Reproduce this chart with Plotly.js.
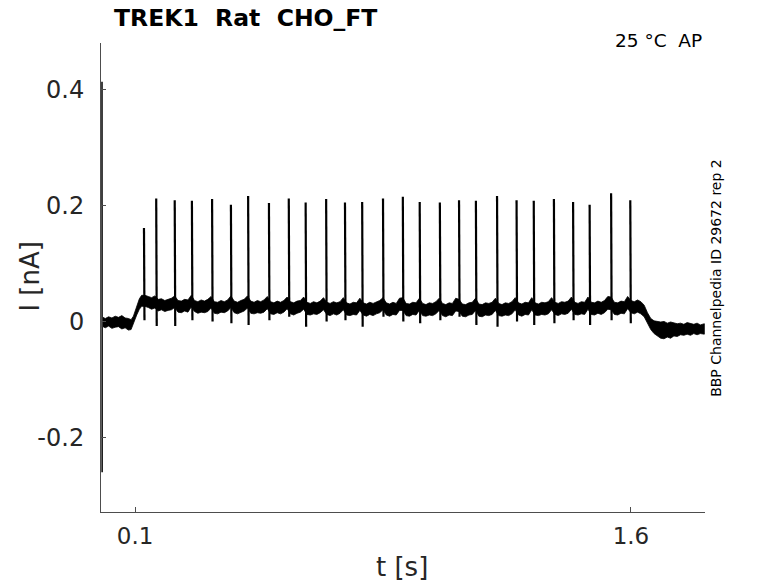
<!DOCTYPE html>
<html>
<head>
<meta charset="utf-8">
<script src="https://cdn.plot.ly/plotly-3.0.1.min.js"></script>
<style>
  html, body { margin: 0; padding: 0; background: #fff; }
  #trace-graph { width: 778px; height: 583px; }
</style>
</head>
<body>
<div id="trace-graph"></div>
<script>
//  ###################### DATA ######################

// envelope of the noisy current trace (nA)
const envTime = [
    0.003, 0.01, 0.02, 0.03, 0.04, 0.05, 0.06, 0.07, 0.08, 0.088,
    0.095, 0.105, 0.113, 0.12,
    0.13, 0.14, 0.15, 0.16, 0.17, 0.18, 0.19, 0.20, 0.21, 0.22,
    0.23, 0.24, 0.25, 0.26, 0.27, 0.28, 0.29, 0.30, 0.31, 0.32,
    0.33, 0.34, 0.35, 0.36, 0.37, 0.38, 0.39, 0.40, 0.41, 0.42,
    0.43, 0.44, 0.45, 0.46, 0.47, 0.48, 0.49, 0.50, 0.51, 0.52,
    0.53, 0.54, 0.55, 0.56, 0.57, 0.58, 0.59, 0.60, 0.61, 0.62,
    0.63, 0.64, 0.65, 0.66, 0.67, 0.68, 0.69, 0.70, 0.71, 0.72,
    0.73, 0.74, 0.75, 0.76, 0.77, 0.78, 0.79, 0.80, 0.81, 0.82,
    0.83, 0.84, 0.85, 0.86, 0.87, 0.88, 0.89, 0.90, 0.91, 0.92,
    0.93, 0.94, 0.95, 0.96, 0.97, 0.98, 0.99, 1.00, 1.01, 1.02,
    1.03, 1.04, 1.05, 1.06, 1.07, 1.08, 1.09, 1.10, 1.11, 1.12,
    1.13, 1.14, 1.15, 1.16, 1.17, 1.18, 1.19, 1.20, 1.21, 1.22,
    1.23, 1.24, 1.25, 1.26, 1.27, 1.28, 1.29, 1.30, 1.31, 1.32,
    1.33, 1.34, 1.35, 1.36, 1.37, 1.38, 1.39, 1.40, 1.41, 1.42,
    1.43, 1.44, 1.45, 1.46, 1.47, 1.48, 1.49, 1.50, 1.51, 1.52,
    1.53, 1.54, 1.55, 1.56, 1.57, 1.58, 1.59, 1.60, 1.61, 1.62,
    1.63, 1.64, 1.65, 1.66, 1.67, 1.68, 1.69, 1.70, 1.71, 1.72,
    1.73, 1.74, 1.75, 1.76, 1.77, 1.78, 1.79, 1.80, 1.81, 1.822
];
const envUpper = [
    0.008, 0.006, 0.009, 0.007, 0.010, 0.008, 0.011, 0.007, 0.006, 0.004,
    0.010, 0.026, 0.040, 0.046,
    0.046, 0.044, 0.042, 0.045, 0.039, 0.040, 0.037, 0.039, 0.041, 0.045,
    0.037, 0.036, 0.039, 0.038, 0.046, 0.037, 0.035, 0.038, 0.036, 0.039,
    0.044, 0.035, 0.034, 0.037, 0.035, 0.038, 0.045, 0.036, 0.034, 0.037,
    0.039, 0.045, 0.036, 0.034, 0.037, 0.035, 0.038, 0.044, 0.035, 0.033,
    0.036, 0.034, 0.037, 0.043, 0.035, 0.033, 0.036, 0.037, 0.043, 0.034,
    0.032, 0.035, 0.033, 0.036, 0.042, 0.034, 0.032, 0.035, 0.033, 0.035,
    0.042, 0.033, 0.031, 0.034, 0.033, 0.041, 0.033, 0.031, 0.034, 0.032,
    0.035, 0.037, 0.042, 0.033, 0.031, 0.034, 0.032, 0.041, 0.042, 0.032,
    0.031, 0.034, 0.033, 0.041, 0.032, 0.030, 0.033, 0.032, 0.035, 0.041,
    0.032, 0.030, 0.033, 0.032, 0.041, 0.039, 0.031, 0.030, 0.033, 0.034,
    0.041, 0.031, 0.030, 0.033, 0.032, 0.034, 0.041, 0.032, 0.030, 0.033,
    0.032, 0.035, 0.042, 0.033, 0.031, 0.034, 0.033, 0.042, 0.033, 0.031,
    0.034, 0.033, 0.035, 0.042, 0.034, 0.032, 0.035, 0.034, 0.036, 0.043,
    0.034, 0.032, 0.035, 0.034, 0.043, 0.034, 0.033, 0.036, 0.034, 0.037,
    0.044, 0.043, 0.034, 0.033, 0.036, 0.035, 0.044, 0.037, 0.035, 0.038,
    0.035, 0.029, 0.016, 0.006, 0.002, 0.001, 0.000, 0.001, -0.002, 0.000,
    -0.001, -0.003, -0.002, -0.004, -0.001, -0.003, -0.004, -0.002, -0.005, -0.003
];
const envLower = [
    -0.008, -0.010, -0.007, -0.011, -0.009, -0.008, -0.012, -0.010, -0.014, -0.013,
    -0.003, 0.012, 0.022, 0.027,
    0.027, 0.025, 0.022, 0.024, 0.019, 0.021, 0.018, 0.020, 0.021, 0.025,
    0.017, 0.016, 0.019, 0.017, 0.026, 0.018, 0.015, 0.017, 0.016, 0.018,
    0.024, 0.015, 0.014, 0.017, 0.016, 0.019, 0.025, 0.016, 0.014, 0.017,
    0.019, 0.024, 0.015, 0.014, 0.016, 0.015, 0.017, 0.023, 0.014, 0.013,
    0.016, 0.014, 0.017, 0.023, 0.014, 0.012, 0.015, 0.017, 0.022, 0.013,
    0.012, 0.014, 0.013, 0.016, 0.021, 0.013, 0.011, 0.014, 0.012, 0.015,
    0.021, 0.012, 0.011, 0.013, 0.012, 0.020, 0.012, 0.010, 0.013, 0.011,
    0.014, 0.016, 0.021, 0.012, 0.010, 0.013, 0.012, 0.020, 0.020, 0.011,
    0.010, 0.013, 0.012, 0.020, 0.011, 0.010, 0.012, 0.011, 0.014, 0.020,
    0.011, 0.009, 0.012, 0.011, 0.019, 0.018, 0.010, 0.009, 0.012, 0.013,
    0.020, 0.010, 0.009, 0.012, 0.011, 0.013, 0.020, 0.011, 0.010, 0.012,
    0.011, 0.014, 0.021, 0.012, 0.010, 0.013, 0.012, 0.021, 0.012, 0.011,
    0.013, 0.012, 0.014, 0.021, 0.013, 0.011, 0.014, 0.013, 0.015, 0.022,
    0.013, 0.012, 0.014, 0.013, 0.022, 0.013, 0.012, 0.015, 0.013, 0.016,
    0.022, 0.021, 0.013, 0.012, 0.015, 0.014, 0.023, 0.016, 0.014, 0.017,
    0.014, 0.009, -0.003, -0.013, -0.020, -0.024, -0.028, -0.029, -0.026, -0.028,
    -0.024, -0.025, -0.022, -0.023, -0.021, -0.023, -0.020, -0.022, -0.020, -0.021
];

// action currents: time (s), peak (nA), dip right after the peak (nA)
const spikeTime = [
    0.127, 0.164, 0.220, 0.272, 0.333, 0.390, 0.442, 0.505, 0.565, 0.616,
    0.678, 0.735, 0.787, 0.850, 0.910, 0.961, 1.022, 1.080, 1.131, 1.195,
    1.254, 1.306, 1.367, 1.425, 1.475, 1.540, 1.598
];
const spikePeak = [
    0.162, 0.213, 0.210, 0.209, 0.212, 0.202, 0.217, 0.205, 0.213, 0.206,
    0.212, 0.206, 0.207, 0.213, 0.216, 0.207, 0.206, 0.210, 0.209, 0.217,
    0.210, 0.209, 0.212, 0.207, 0.202, 0.222, 0.210
];
const spikeDip = [
    0.003, -0.007, -0.007, 0.003, 0.001, -0.002, -0.005, 0.003, 0.009, -0.008,
    0.001, 0.003, -0.008, 0.009, 0.001, -0.002, 0.003, 0.009, -0.005, -0.008,
    0.001, -0.005, -0.002, 0.003, -0.005, 0.003, -0.002
];

// capacitive transient at the very start of the sweep
const transientTime = [0.0, 0.0005];
const transientValue = [0.414, -0.259];

const xTicks = [0.1, 1.6];
const xTickLabels = ["0.1", "1.6"];
const yTicks = [-0.2, 0, 0.2, 0.4];
const yTickLabels = ["-0.2", "0", "0.2", "0.4"];

//  ###################### GRAPH ######################

function drawTraceGraph(){

    // closed polygon: upper edge forward, lower edge backward
    const bandX = envTime.concat(envTime.slice().reverse());
    const bandY = envUpper.concat(envLower.slice().reverse());

    const spikeX = [];
    const spikeY = [];
    spikeTime.forEach((t, i) => {
        spikeX.push(t, t + 0.0015, null);
        spikeY.push(spikePeak[i], spikeDip[i], null);
    });

    const traceData = [
        { x: bandX, y: bandY, mode: "lines", fill: "toself", fillcolor: "#000", line: { color: "#000", width: 0.8 }, hoverinfo: "skip" },
        { x: spikeX, y: spikeY, mode: "lines", line: { color: "#000", width: 2.2 }, connectgaps: false },
        { x: transientTime, y: transientValue, mode: "lines", line: { color: "#000", width: 1.5 } },
    ];

    const axisColor = "#4d4d4d";
    const textColor = "#262626";
    const font = "DejaVu Sans, sans-serif";

    const traceLayout = {
        width: 778,
        height: 583,
        paper_bgcolor: "#fff",
        plot_bgcolor: "#fff",
        font: { family: font, color: textColor },
        margin: { t: 43, b: 71, l: 101, r: 73 },
        showlegend: false,
        xaxis: {
            range: [-0.003, 1.824],
            tickvals: xTicks, ticktext: xTickLabels,
            ticks: "inside", ticklen: 5, tickcolor: axisColor,
            showline: true, linecolor: axisColor, linewidth: 1,
            showgrid: false, zeroline: false,
            ticklabelstandoff: 3,
            tickfont: { size: 23, color: textColor },
        },
        yaxis: {
            range: [-0.3276, 0.481],
            tickvals: yTicks, ticktext: yTickLabels,
            ticks: "inside", ticklen: 5, tickcolor: axisColor,
            showline: true, linecolor: axisColor, linewidth: 1,
            showgrid: false, zeroline: false,
            ticklabelstandoff: 11,
            tickfont: { size: 24, color: textColor },
        },
        annotations: [
            // axis titles placed by hand so they sit where the reference has them
            { text: "t [s]", xref: "paper", yref: "paper",
              x: 0.498, y: -0.117, xanchor: "center", yanchor: "middle", showarrow: false,
              font: { size: 26, color: textColor, family: font } },
            { text: "I [nA]", xref: "paper", yref: "paper",
              x: -0.1175, y: 0.502, xanchor: "center", yanchor: "middle", showarrow: false,
              textangle: -90, font: { size: 26, color: textColor, family: font } },
            // plot title, left aligned above the axes
            { text: "<b>TREK1\u00a0\u00a0Rat\u00a0\u00a0CHO_FT</b>", xref: "paper", yref: "paper",
              x: 0.018, y: 1.053, xanchor: "left", yanchor: "middle", showarrow: false,
              font: { size: 23.5, color: "#000", family: font } },
            { text: "25 °C\u00a0\u00a0AP", xref: "paper", yref: "paper",
              x: 0.998, y: 1.006, xanchor: "right", yanchor: "middle", showarrow: false,
              font: { size: 18.5, color: "#000", family: font } },
            { text: "BBP Channelpedia ID 29672 rep 2", xref: "paper", yref: "paper",
              x: 1.018, y: 0.499, xanchor: "center", yanchor: "middle", showarrow: false,
              textangle: -90, font: { size: 14, color: "#000", family: font } },
        ],
    };

    const traceConfig = {
        staticPlot: true,
        responsive: false,
    };

    Plotly.newPlot("trace-graph", traceData, traceLayout, traceConfig);
}

drawTraceGraph();
</script>
</body>
</html>
